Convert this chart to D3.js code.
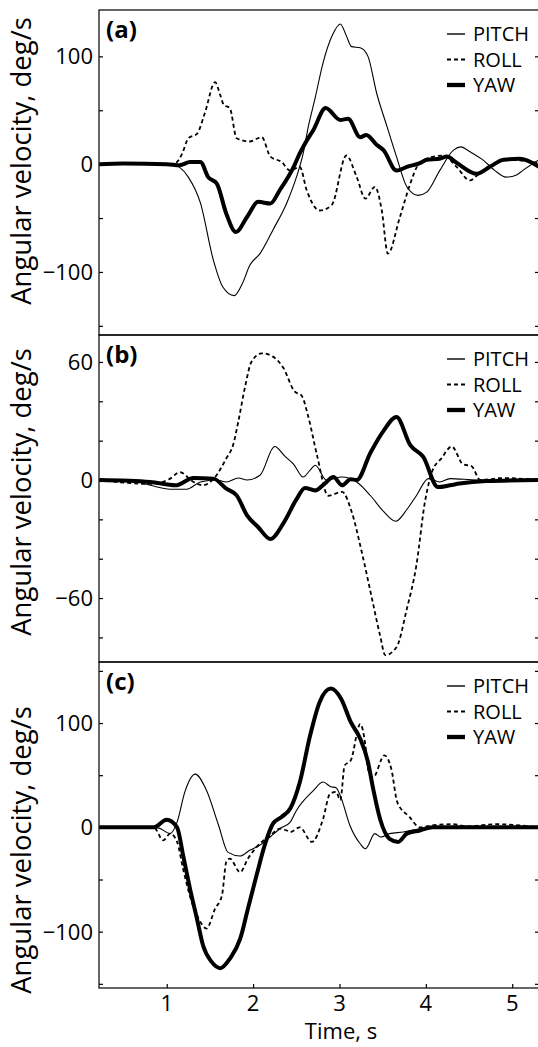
<!DOCTYPE html>
<html>
<head>
<meta charset="utf-8">
<script src="https://cdn.jsdelivr.net/npm/d3@7"></script>
<style>
  body { margin: 0; background: #fff; }
  svg { display: block; font-family: "Open Sans", sans-serif; }
</style>
</head>
<body>
<div id="viz"></div>
<script>
// ====================
// DATA  [time s, deg/s]
// ====================
const seriesNames = ['PITCH', 'ROLL', 'YAW'];
const panelLabels = ['(a)', '(b)', '(c)'];
const xTicks = [1, 2, 3, 4, 5];

const pitchA = [[0.22,0],[0.6,0.5],[1.0,0],[1.1,-1],[1.15,-3],[1.25,-12],[1.39,-36],[1.54,-89],[1.65,-114],[1.78,-122],[1.88,-110],[1.96,-94],[2.08,-83],[2.23,-61],[2.39,-36],[2.51,-10],[2.58,10],[2.64,35],[2.72,62],[2.81,94],[2.92,120],[3.01,130],[3.08,119],[3.14,109],[3.24,108],[3.33,100],[3.43,66],[3.55,35],[3.66,7],[3.78,-21],[3.91,-29],[4.01,-26],[4.16,-6],[4.32,13],[4.41,16],[4.50,12],[4.66,4],[4.80,-6],[4.93,-12],[5.05,-10],[5.12,-6],[5.31,4]];
const rollA = [[0.22,0],[1.0,0],[1.1,1],[1.18,10],[1.25,24],[1.35,28],[1.44,47],[1.56,76],[1.62,64],[1.66,55],[1.73,52],[1.81,24],[1.96,21],[2.10,25],[2.20,7],[2.33,2],[2.43,-6],[2.54,-2.5],[2.62,-24],[2.77,-43],[2.91,-38],[3.08,8],[3.20,-12],[3.30,-32],[3.41,-21],[3.49,-43],[3.56,-83],[3.70,-49],[3.82,-18],[3.91,-1],[4.09,7],[4.20,8],[4.35,-2],[4.51,-15],[4.60,-10],[4.66,-6],[4.97,4],[5.31,1]];
const yawA = [[0.22,0],[0.5,0.5],[1.0,0],[1.15,-1],[1.27,2],[1.39,2],[1.48,-12],[1.58,-18],[1.69,-46],[1.80,-63],[1.93,-49],[2.06,-35],[2.20,-36.5],[2.31,-24],[2.47,-2.5],[2.54,10],[2.60,19],[2.70,32],[2.84,52],[3.01,41],[3.10,42],[3.24,25],[3.31,27],[3.43,18],[3.51,13],[3.66,-6],[3.78,-2.5],[3.93,1],[4.01,4],[4.16,5],[4.24,7],[4.36,1],[4.59,-9],[4.75,-2],[4.90,4],[5.09,5],[5.31,-2.5]];

const pitchB = [[0.22,0],[0.6,-0.5],[0.81,-2.7],[1.04,-4.7],[1.23,-4.7],[1.39,-1],[1.58,0],[1.69,-1],[1.83,1],[1.93,0],[2.08,2.4],[2.25,17],[2.37,12],[2.47,8],[2.58,1.5],[2.66,5],[2.72,7.5],[2.85,0],[3.03,1.5],[3.20,-1],[3.36,-8],[3.51,-16],[3.65,-21],[3.78,-15],[3.89,-8],[4.03,0.7],[4.16,-1],[4.28,0.7],[4.6,0],[5.31,0]];
const rollB = [[0.22,0],[0.81,-2],[1.04,0.7],[1.15,4],[1.31,-1],[1.42,-2.7],[1.56,1.5],[1.69,11],[1.77,18],[1.83,30],[1.91,48],[1.98,60],[2.10,64.4],[2.23,62.7],[2.35,57],[2.48,45],[2.56,43],[2.64,32],[2.74,12.6],[2.87,-8],[3.03,-6],[3.14,-16],[3.26,-37],[3.37,-59],[3.47,-79],[3.53,-89],[3.66,-85],[3.78,-65.5],[3.89,-43.5],[3.99,-11],[4.07,4],[4.18,11],[4.30,17],[4.43,8],[4.53,7],[4.63,0],[4.89,1],[5.31,0]];
const yawB = [[0.22,0],[0.81,-1],[1.10,-2.7],[1.31,1],[1.54,0.7],[1.69,-4.4],[1.81,-7.8],[1.93,-18],[2.06,-24],[2.20,-30],[2.35,-22],[2.50,-10],[2.60,-4],[2.72,-5.3],[2.83,-1.8],[2.93,1.5],[3.03,-2.7],[3.13,0.4],[3.20,0],[3.36,14],[3.51,25],[3.66,32],[3.82,17.7],[3.97,11.7],[4.14,-3.6],[4.28,-2.7],[4.39,-1.8],[4.7,-0.5],[5.31,0]];

const pitchC = [[0.22,0],[0.85,0],[0.92,-1],[1.04,-6],[1.12,5],[1.21,34],[1.33,51],[1.46,35.5],[1.60,2],[1.71,-24],[1.85,-27.5],[1.96,-22],[2.08,-17],[2.20,-9],[2.31,-1.3],[2.43,5],[2.50,16],[2.70,35.5],[2.81,43.4],[2.90,39],[2.96,38],[3.02,28],[3.12,2],[3.24,-15.7],[3.30,-20.5],[3.41,-6],[3.48,-9.3],[3.58,-6],[3.74,-4.5],[3.93,-1.3],[4.1,0],[5.31,0]];
const rollC = [[0.22,0],[0.85,0],[0.96,-12.5],[1.04,-6],[1.12,-14],[1.19,-40],[1.29,-71.6],[1.37,-87.6],[1.46,-97],[1.56,-78],[1.64,-65],[1.69,-33],[1.73,-30],[1.85,-43],[1.94,-30],[2.04,-19],[2.20,-7.7],[2.31,-1.3],[2.39,-3],[2.43,-4.5],[2.54,0],[2.68,-14],[2.81,8],[2.89,32],[2.96,34],[3.01,26],[3.06,59.4],[3.13,64],[3.24,99],[3.30,78.6],[3.33,56],[3.39,48],[3.52,69],[3.60,56],[3.67,24],[3.81,10],[3.93,0],[4.08,2],[4.3,3],[4.5,1],[4.8,3],[5.31,0]];
const yawC = [[0.22,0],[0.85,0],[1.0,7.3],[1.12,0],[1.19,-27],[1.27,-59],[1.35,-87.6],[1.42,-113],[1.52,-129],[1.62,-135],[1.73,-126],[1.85,-107],[1.94,-78],[2.04,-46],[2.14,-15.7],[2.23,3.5],[2.33,10],[2.43,18],[2.54,43],[2.66,88],[2.77,120],[2.90,133],[3.02,123],[3.13,101],[3.24,85],[3.33,62.6],[3.39,37],[3.47,8],[3.58,-11],[3.68,-14],[3.78,-6],[3.93,-3],[4.08,0],[5.31,0]];

const yTicksA = [-150, -100, -50, 0, 50, 100];
const yLabelsA = [-100, 0, 100];
const yTicksB = [-80, -60, -40, -20, 0, 20, 40, 60];
const yLabelsB = [-60, 0, 60];
const yTicksC = [-150, -100, -50, 0, 50, 100, 150];
const yLabelsC = [-100, 0, 100];

// ====================
// SETUP
// ====================
const width = 538;
const height = 1047;
const left = 99;
const right = 539;

const x = d3.scaleLinear().domain([0.216, 5.31]).range([left, right]);

const panels = [
  { label: panelLabels[0], top: 10, bottom: 335, domain: [-158.5, 143], ticks: yTicksA, labels: yLabelsA, series: [pitchA, rollA, yawA], yLab: 161 },
  { label: panelLabels[1], top: 335, bottom: 662, domain: [-92.5, 73.7], ticks: yTicksB, labels: yLabelsB, series: [pitchB, rollB, yawB], yLab: 492 },
  { label: panelLabels[2], top: 662, bottom: 988, domain: [-154, 158.5], ticks: yTicksC, labels: yLabelsC, series: [pitchC, rollC, yawC], yLab: 850 }
];

const styles = [
  { w: 1.1, dash: null },
  { w: 1.8, dash: '4,3' },
  { w: 4, dash: null }
];

const fmt = (v) => (v < 0 ? '\u2212' + Math.abs(v) : String(v));

const svg = d3.select('#viz').append('svg')
  .attr('width', width)
  .attr('height', height);

panels.forEach((p, i) => {
  const y = d3.scaleLinear().domain(p.domain).range([p.bottom, p.top]);
  const g = svg.append('g');

  const clipId = 'clip' + i;
  g.append('clipPath').attr('id', clipId)
    .append('rect')
    .attr('x', left).attr('y', p.top)
    .attr('width', right - left).attr('height', p.bottom - p.top);

  const line = d3.line()
    .x((d) => x(d[0]))
    .y((d) => y(d[1]))
    .curve(d3.curveMonotoneX);

  // curves
  p.series.forEach((s, k) => {
    g.append('path')
      .datum(s)
      .attr('clip-path', `url(#${clipId})`)
      .attr('d', line)
      .attr('fill', 'none')
      .attr('stroke', '#000')
      .attr('stroke-width', styles[k].w)
      .attr('stroke-dasharray', styles[k].dash)
      .attr('stroke-linejoin', 'round');
  });

  // frame
  g.append('rect')
    .attr('x', left).attr('y', p.top)
    .attr('width', right - left).attr('height', p.bottom - p.top)
    .attr('fill', 'none').attr('stroke', '#000').attr('stroke-width', 1.2);

  // y ticks on both sides, pointing in
  const leftAxis = d3.axisLeft(y).tickValues(p.ticks).tickSize(-4).tickFormat('');
  const rightAxis = d3.axisRight(y).tickValues(p.ticks).tickSize(-4).tickFormat('');
  g.append('g').attr('transform', `translate(${left},0)`).call(leftAxis)
    .call((a) => a.select('.domain').remove());
  g.append('g').attr('transform', `translate(${right},0)`).call(rightAxis)
    .call((a) => a.select('.domain').remove());

  g.selectAll('.ylab')
    .data(p.labels)
    .join('text')
    .attr('x', left - 6)
    .attr('y', (d) => y(d))
    .attr('dy', '0.36em')
    .attr('text-anchor', 'end')
    .attr('font-size', 22)
    .text(fmt);

  // panel letter
  g.append('text')
    .attr('x', 106).attr('y', p.top + 28)
    .attr('font-size', 24).attr('font-weight', 'bold')
    .text(p.label);

  // y label
  g.append('text')
    .attr('transform', `translate(31,${p.yLab}) rotate(-90)`)
    .attr('text-anchor', 'middle')
    .attr('font-size', 27.5)
    .text('Angular velocity, deg/s');

  // legend
  const lg = g.append('g').attr('transform', `translate(447,${p.top + 24})`);
  seriesNames.forEach((name, k) => {
    lg.append('line')
      .attr('x1', 0).attr('x2', 18)
      .attr('y1', k * 25.5).attr('y2', k * 25.5)
      .attr('stroke', '#000')
      .attr('stroke-width', styles[k].w + 0.3)
      .attr('stroke-dasharray', styles[k].dash);
    lg.append('text')
      .attr('x', 26).attr('y', k * 25.5)
      .attr('dy', '0.36em')
      .attr('font-size', 20)
      .text(name);
  });

  // x ticks only on the bottom panel
  if (i === panels.length - 1) {
    const xAxis = d3.axisBottom(x).tickValues(xTicks).tickSize(-4).tickFormat('');
    g.append('g').attr('transform', `translate(0,${p.bottom})`).call(xAxis)
      .call((a) => a.select('.domain').remove());
    g.selectAll('.xlab')
      .data(xTicks)
      .join('text')
      .attr('x', (d) => x(d))
      .attr('y', p.bottom + 23)
      .attr('text-anchor', 'middle')
      .attr('font-size', 22)
      .text((d) => d);
    g.append('text')
      .attr('x', 341).attr('y', 1039)
      .attr('text-anchor', 'middle')
      .attr('font-size', 22)
      .text('Time, s');
  }
});

svg.selectAll('.tick line').attr('stroke', '#000').attr('stroke-width', 1.2);
</script>
</body>
</html>
